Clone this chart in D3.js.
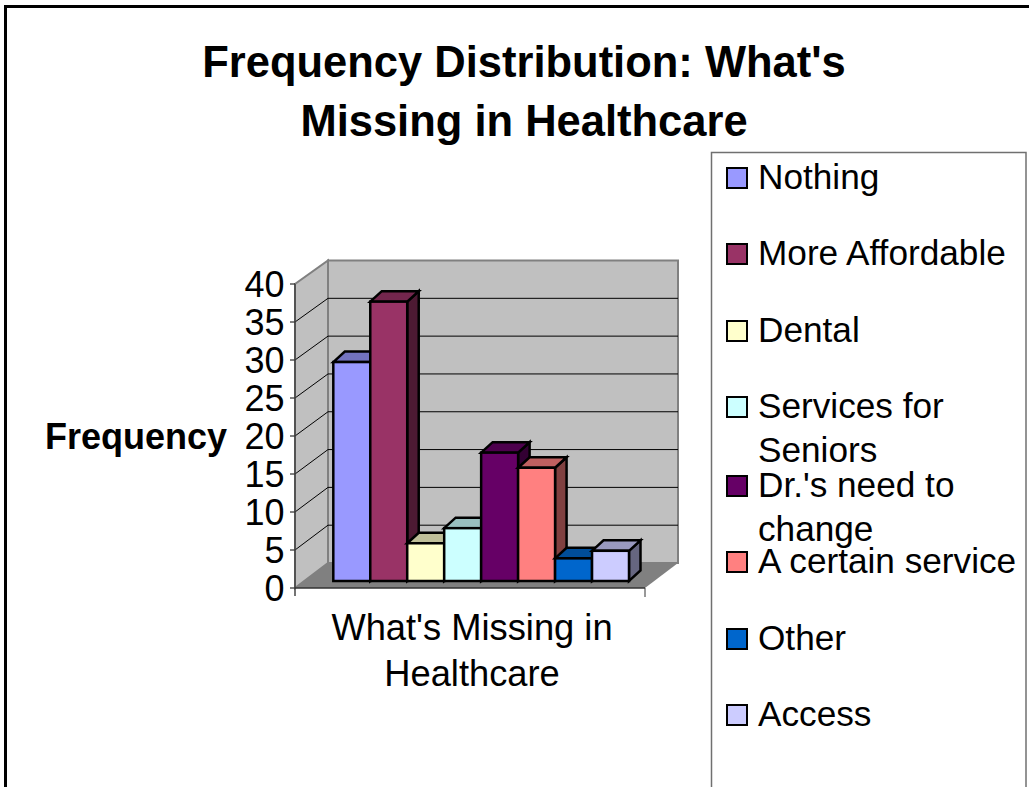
<!DOCTYPE html>
<html>
<head>
<meta charset="utf-8">
<script src="https://cdn.jsdelivr.net/npm/d3@7"></script>
<style>
  html, body { margin: 0; padding: 0; background: #fff; overflow: hidden; }
  text { font-family: "Liberation Sans", Arial, sans-serif; fill: #000; }
</style>
</head>
<body>
<svg id="chart" width="1029" height="787"></svg>
<script>
const titleLines = ["Frequency Distribution: What's", "Missing in Healthcare"];
const yAxisTitle = "Frequency";
const xLabelLines = ["What's Missing in", "Healthcare"];
const categories = ["Nothing", "More Affordable", "Dental", "Services for Seniors", "Dr.'s need to change", "A certain service", "Other", "Access"];
const values = [29, 37, 5, 7, 17, 15, 3, 4];
const colors = ["#9999ff", "#993366", "#ffffcc", "#ccffff", "#660066", "#ff8080", "#0066cc", "#ccccff"];
const yTicks = [0, 5, 10, 15, 20, 25, 30, 35, 40];
const legendLines = [["Nothing"], ["More Affordable"], ["Dental"], ["Services for", "Seniors"], ["Dr.'s need to", "change"], ["A certain service"], ["Other"], ["Access"]];

const svg = d3.select('#chart');

// page frame: left and top only, the right edge has no line
svg.append('path')
  .attr('d', 'M5.5,787V6.5H1029')
  .attr('fill', 'none').attr('stroke', '#000').attr('stroke-width', 3);

// title
svg.append('text')
  .attr('text-anchor', 'middle')
  .style('font-size', '43.5px').style('font-weight', 'bold')
  .selectAll('tspan').data(titleLines).enter().append('tspan')
  .attr('x', 524).attr('y', (d, i) => 77 + i * 59)
  .text(d => d);

// 3D box: front plane scale and a slightly flatter back wall scale
const depthX = 33;
const frontLeft = 295, frontRight = 645;
const yFront = d3.scaleLinear().domain([0, 40]).range([588, 284]);
const yBack = d3.scaleLinear().domain([0, 40]).range([563, 260.5]);

// side wall
svg.append('polygon')
  .attr('points', [[frontLeft, yFront(0)], [frontLeft, yFront(40)], [frontLeft + depthX, yBack(40)], [frontLeft + depthX, yBack(0)]].join(' '))
  .attr('fill', '#c0c0c0').attr('stroke', '#808080').attr('stroke-width', 2);

// back wall
svg.append('rect')
  .attr('x', frontLeft + depthX).attr('y', yBack(40))
  .attr('width', frontRight - frontLeft).attr('height', yBack(0) - yBack(40))
  .attr('fill', '#c0c0c0').attr('stroke', '#808080').attr('stroke-width', 2);

// floor, over the wall outlines
svg.append('polygon')
  .attr('points', [[frontLeft, yFront(0)], [frontRight, yFront(0)], [frontRight + depthX, yBack(0)], [frontLeft + depthX, yBack(0)]].join(' '))
  .attr('fill', '#808080');

// gridlines on both walls
const grid = svg.append('g').attr('stroke', '#000').attr('stroke-width', 1);
yTicks.filter(t => t > 0 && t < 40).forEach(t => {
  grid.append('line')
    .attr('x1', frontLeft + depthX).attr('x2', frontRight + depthX)
    .attr('y1', yBack(t)).attr('y2', yBack(t));
  grid.append('line')
    .attr('x1', frontLeft).attr('x2', frontLeft + depthX)
    .attr('y1', yFront(t)).attr('y2', yBack(t));
});

// axes
svg.append('g').selectAll('line').data(yTicks).enter().append('line')
  .attr('x1', frontLeft - 5).attr('x2', frontLeft)
  .attr('y1', d => yFront(d)).attr('y2', d => yFront(d))
  .attr('stroke', '#000');
svg.append('line').attr('x1', frontLeft).attr('x2', frontLeft)
  .attr('y1', yFront(40)).attr('y2', 596).attr('stroke', '#444').attr('stroke-width', 1.5);
svg.append('line').attr('x1', frontLeft).attr('x2', frontRight)
  .attr('y1', 588).attr('y2', 588).attr('stroke', '#333').attr('stroke-width', 1.5);
svg.append('line').attr('x1', frontRight).attr('x2', frontRight)
  .attr('y1', 588).attr('y2', 597).attr('stroke', '#333');

svg.append('g').selectAll('text').data(yTicks).enter().append('text')
  .attr('x', 284.5).attr('y', d => yFront(d) + 13)
  .attr('text-anchor', 'end').style('font-size', '36px')
  .text(d => d);

svg.append('text').attr('x', 45).attr('y', 449)
  .style('font-size', '36px').style('font-weight', 'bold').text(yAxisTitle);

svg.append('text').attr('text-anchor', 'middle').style('font-size', '36.3px')
  .selectAll('tspan').data(xLabelLines).enter().append('tspan')
  .attr('x', 472).attr('y', (d, i) => 640 + i * 46).text(d => d);

// bars
const barBase = 581;
const unit = 7.55;
const x = d3.scaleBand().domain(categories).range([333.3, 629]);
const yBar = d3.scaleLinear().domain([0, 40]).range([barBase, barBase - 40 * unit]);
const bdx = 11.5, bdy = -10.5;

function shade(c, k) {
  const r = d3.rgb(c);
  return d3.rgb(r.r * k, r.g * k, r.b * k).formatHex();
}

const bars = svg.append('g').selectAll('g').data(categories).enter().append('g')
  .attr('stroke', '#000').attr('stroke-width', 2.5).attr('stroke-linejoin', 'miter');

bars.each(function (c, i) {
  const g = d3.select(this);
  const x0 = x(c), x1 = x0 + x.bandwidth(), top = yBar(values[i]);
  // side face
  g.append('polygon')
    .attr('points', [[x1, top], [x1 + bdx, top + bdy], [x1 + bdx, barBase + bdy], [x1, barBase]].join(' '))
    .attr('fill', shade(colors[i], 0.5));
  // top face
  g.append('polygon')
    .attr('points', [[x0, top], [x0 + bdx, top + bdy], [x1 + bdx, top + bdy], [x1, top]].join(' '))
    .attr('fill', shade(colors[i], 0.75));
  // front face
  g.append('rect')
    .attr('x', x0).attr('y', top).attr('width', x.bandwidth()).attr('height', barBase - top)
    .attr('fill', colors[i]);
});

// legend box runs off the bottom of the picture
svg.append('path')
  .attr('d', 'M711.5,787V152.5H1026V787')
  .attr('fill', 'none').attr('stroke', '#707070').attr('stroke-width', 1.5);

const legendTop = [177, 253, 330, 406, 485, 561, 638, 714];
const legend = svg.append('g').selectAll('g').data(categories).enter().append('g');
legend.append('rect')
  .attr('x', 727).attr('y', (d, i) => legendTop[i] - 9).attr('width', 20).attr('height', 20)
  .attr('fill', (d, i) => colors[i]).attr('stroke', '#000').attr('stroke-width', 2);
legend.each(function (c, i) {
  d3.select(this).append('text').style('font-size', '35.2px')
    .selectAll('tspan').data(legendLines[i]).enter().append('tspan')
    .attr('x', 758).attr('y', (d, j) => legendTop[i] + 12 + j * 44).text(d => d);
});
</script>
</body>
</html>
